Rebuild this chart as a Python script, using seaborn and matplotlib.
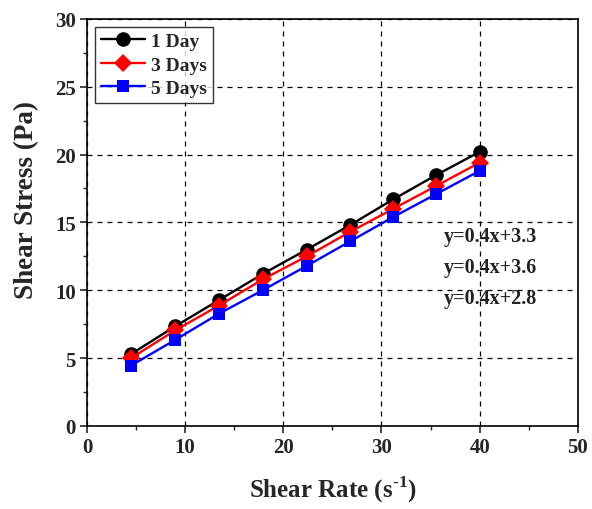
import matplotlib
matplotlib.use("Agg")
import matplotlib.pyplot as plt
import seaborn as sns
import pandas as pd
from matplotlib.ticker import MultipleLocator

shear_rate = [4.5, 9.0, 13.4, 17.9, 22.4, 26.8, 31.2, 35.6, 40.0]
day1 = [5.3, 7.35, 9.25, 11.2, 13.0, 14.8, 16.7, 18.5, 20.2]
day3 = [5.0, 7.05, 8.85, 10.8, 12.5, 14.3, 16.0, 17.7, 19.4]
day5 = [4.45, 6.35, 8.25, 10.0, 11.8, 13.6, 15.4, 17.1, 18.8]
series_names = ["1 Day", "3 Days", "5 Days"]
equations = ["y=0.4x+3.3", "y=0.4x+3.6", "y=0.4x+2.8"]

rows = []
for name, vals in zip(series_names, [day1, day3, day5]):
    for x, y in zip(shear_rate, vals):
        rows.append({"Shear Rate": x, "Shear Stress": y, "Series": name})
df = pd.DataFrame(rows)

sns.set_style("ticks")
plt.rcParams["font.family"] = ["Liberation Serif", "DejaVu Serif"]
plt.rcParams["font.weight"] = "bold"

fig = plt.figure(figsize=(5.92, 5.10), dpi=100)
ax = fig.add_axes([0.147, 0.163, 0.829, 0.798])

palette = {"1 Day": "black", "3 Days": "red", "5 Days": "blue"}
markers = {"1 Day": "o", "3 Days": "D", "5 Days": "s"}
sizes_m = {"1 Day": 10.5, "3 Days": 9, "5 Days": 9}

for name in series_names:
    sub = df[df["Series"] == name]
    sns.lineplot(data=sub, x="Shear Rate", y="Shear Stress", color=palette[name],
                 marker=markers[name], markersize=sizes_m[name], markeredgewidth=0,
                 linewidth=1.7, label=name, ax=ax, zorder=3)

ax.set_xlim(0, 50)
ax.set_ylim(0, 30)
ax.xaxis.set_major_locator(MultipleLocator(10))
ax.xaxis.set_minor_locator(MultipleLocator(5))
ax.yaxis.set_major_locator(MultipleLocator(5))
ax.yaxis.set_minor_locator(MultipleLocator(2.5))
ax.tick_params(axis="both", which="major", direction="out", length=5, width=1.2,
               labelsize=15, pad=3)
ax.tick_params(axis="both", which="minor", direction="out", length=3, width=1.0)
for lab in ax.get_xticklabels() + ax.get_yticklabels():
    lab.set_fontweight("bold")
for sp in ax.spines.values():
    sp.set_visible(True)
    sp.set_linewidth(1.2)
    sp.set_color("black")

ax.grid(True, which="major", color="black", linestyle=(0, (4, 4)), linewidth=0.9)
ax.set_axisbelow(True)

ax.set_xlabel("Shear Rate (s$^{\\mathregular{\u2010}\\mathregular{1}}$)", fontsize=18,
              fontweight="bold", labelpad=12)
ax.set_ylabel("Shear Stress (Pa)", fontsize=19.5, fontweight="bold")
ax.yaxis.set_label_coords(-0.097, 0.558)

for i, eq in enumerate(equations):
    ax.text(36.3, 14.0 - i * 2.3, eq, fontsize=14.5, fontweight="bold",
            ha="left", va="center", color="#222222")

leg = ax.legend(loc="upper left", frameon=True, fancybox=False, edgecolor="black",
                prop={"weight": "bold", "size": 14}, handlelength=2.3,
                borderpad=0.3, labelspacing=0.3, handletextpad=0.3,
                borderaxespad=0.4)
leg.get_frame().set_linewidth(1.0)

fig.savefig("out.png", dpi=100)
